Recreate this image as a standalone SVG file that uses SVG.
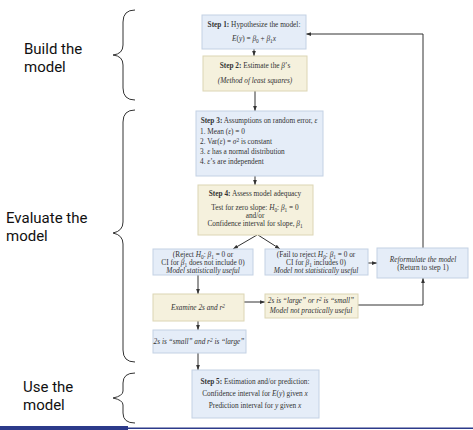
<svg xmlns="http://www.w3.org/2000/svg" width="473" height="430" viewBox="0 0 473 430">
<defs>
<marker id="ah" viewBox="0 0 8 8" refX="8" refY="4" markerWidth="5" markerHeight="5" orient="auto" markerUnits="userSpaceOnUse">
<path d="M0,1 L8,4 L0,7 Z" fill="#333"/>
</marker>
<style>
.blue{fill:#e5edf8;stroke:#c3d1e4;stroke-width:1}
.yel{fill:#f5f1dd;stroke:#dcd5b4;stroke-width:1}
.t{font-family:"Liberation Serif","Times New Roman",serif;font-size:7.3px;fill:#333;text-anchor:middle}
.l{text-anchor:start}
.b{font-weight:bold}
.i{font-style:italic}
.sub{font-size:5.3px}
.lab{font-family:Roboto,"Liberation Sans",Arial,sans-serif;font-size:15px;fill:#111}
.br{fill:none;stroke:#333;stroke-width:1}
.c{fill:none;stroke:#333;stroke-width:1}
</style>
</defs>
<rect width="473" height="430" fill="#ffffff"/>

<g id="labels">
<text class="lab" x="24" y="54">Build the</text>
<text class="lab" x="24" y="72">model</text>
<text class="lab" x="6" y="223">Evaluate the</text>
<text class="lab" x="6" y="241">model</text>
<text class="lab" x="23" y="392">Use the</text>
<text class="lab" x="23" y="410">model</text>
</g>

<g id="braces">
<path class="br" d="M135,10 Q123,10 123,22 L123,45 Q123,54 113,55 Q123,56 123,65 L123,88 Q123,100 135,100"/>
<path class="br" d="M135,110 Q123,110 123,122 L123,222 Q123,231 113,233 Q123,235 123,244 L123,350 Q123,362 135,362"/>
<path class="br" d="M135,373 Q123,373 123,383 L123,391 Q123,396 113,398 Q123,400 123,405 L123,413 Q123,423 135,423"/>
</g>

<g id="connectors">
<line class="c" x1="254" y1="49" x2="254" y2="56" marker-end="url(#ah)"/>
<line class="c" x1="255" y1="91" x2="255" y2="111" marker-end="url(#ah)"/>
<line class="c" x1="255" y1="176" x2="255" y2="185" marker-end="url(#ah)"/>
<line class="c" x1="257" y1="235" x2="233" y2="249" marker-end="url(#ah)"/>
<line class="c" x1="258" y1="235" x2="280" y2="249" marker-end="url(#ah)"/>
<line class="c" x1="198" y1="275" x2="198" y2="294" marker-end="url(#ah)"/>
<line class="c" x1="368" y1="263" x2="377" y2="263" marker-end="url(#ah)"/>
<line class="c" x1="244" y1="302" x2="265" y2="302" marker-end="url(#ah)"/>
<polyline class="c" points="358,305 423,305 423,278" marker-end="url(#ah)"/>
<polyline class="c" points="423,248 423,34 306,34" marker-end="url(#ah)"/>
<line class="c" x1="198" y1="321" x2="198" y2="330" marker-end="url(#ah)"/>
<line class="c" x1="198" y1="353" x2="198" y2="370" marker-end="url(#ah)"/>
</g>

<g id="step1">
<rect class="blue" x="202" y="15" width="104" height="34"/>
<text class="t" x="254" y="27"><tspan class="b">Step 1:</tspan> Hypothesize the model:</text>
<text class="t" x="254" y="41"><tspan class="i">E</tspan>(<tspan class="i">y</tspan>) = <tspan class="i">β</tspan><tspan class="sub" dy="1.5">0</tspan><tspan dy="-1.5"> + </tspan><tspan class="i">β</tspan><tspan class="sub" dy="1.5">1</tspan><tspan class="i" dy="-1.5">x</tspan></text>
</g>

<g id="step2">
<rect class="yel" x="203" y="56" width="104" height="35"/>
<text class="t" x="255" y="68"><tspan class="b">Step 2:</tspan> Estimate the <tspan class="i">β</tspan>’s</text>
<text class="t i" x="255" y="83">(Method of least squares)</text>
</g>

<g id="step3">
<rect class="blue" x="196" y="111" width="127" height="65"/>
<text class="t" x="259" y="123"><tspan class="b">Step 3:</tspan> Assumptions on random error, <tspan class="i">ε</tspan></text>
<text class="t l" x="200" y="134">1. Mean (<tspan class="i">ε</tspan>) = 0</text>
<text class="t l" x="200" y="144">2. Var(<tspan class="i">ε</tspan>) = <tspan class="i">σ</tspan><tspan class="sub" dy="-2.5">2</tspan><tspan dy="2.5"> is constant</tspan></text>
<text class="t l" x="200" y="154">3. <tspan class="i">ε</tspan> has a normal distribution</text>
<text class="t l" x="200" y="164">4. <tspan class="i">ε</tspan>’s are independent</text>
</g>

<g id="step4">
<rect class="yel" x="198" y="185" width="115" height="50"/>
<text class="t" x="255" y="196"><tspan class="b">Step 4:</tspan> Assess model adequacy</text>
<text class="t" x="255" y="210">Test for zero slope: <tspan class="i">H</tspan><tspan class="sub" dy="1.5">0</tspan><tspan dy="-1.5">: </tspan><tspan class="i">β</tspan><tspan class="sub" dy="1.5">1</tspan><tspan dy="-1.5"> = 0</tspan></text>
<text class="t" x="255" y="218">and/or</text>
<text class="t" x="255" y="226">Confidence interval for slope, <tspan class="i">β</tspan><tspan class="sub" dy="1.5">1</tspan></text>
</g>

<g id="reject">
<rect class="blue" x="153" y="249" width="100" height="26"/>
<text class="t" x="203" y="257">(Reject <tspan class="i">H</tspan><tspan class="sub" dy="1.5">0</tspan><tspan dy="-1.5">: </tspan><tspan class="i">β</tspan><tspan class="sub" dy="1.5">1</tspan><tspan dy="-1.5"> = 0 or</tspan></text>
<text class="t" x="203" y="265">CI for <tspan class="i">β</tspan><tspan class="sub" dy="1.5">1</tspan><tspan dy="-1.5"> does not include 0)</tspan></text>
<text class="t i" x="203" y="273">Model statistically useful</text>
</g>

<g id="fail">
<rect class="blue" x="265" y="249" width="103" height="26"/>
<text class="t" x="316" y="257">(Fail to reject <tspan class="i">H</tspan><tspan class="sub" dy="1.5">0</tspan><tspan dy="-1.5">: </tspan><tspan class="i">β</tspan><tspan class="sub" dy="1.5">1</tspan><tspan dy="-1.5"> = 0 or</tspan></text>
<text class="t" x="316" y="265">CI for <tspan class="i">β</tspan><tspan class="sub" dy="1.5">1</tspan><tspan dy="-1.5"> includes 0)</tspan></text>
<text class="t i" x="316" y="273">Model not statistically useful</text>
</g>

<g id="reformulate">
<rect class="blue" x="377" y="248" width="91" height="30"/>
<text class="t i" x="423" y="262">Reformulate the model</text>
<text class="t" x="423" y="270">(Return to step 1)</text>
</g>

<g id="examine">
<rect class="yel" x="153" y="294" width="91" height="27"/>
<text class="t i" x="198" y="310">Examine 2s and r<tspan class="sub" dy="-2.5">2</tspan></text>
</g>

<g id="large">
<rect class="yel" x="265" y="294" width="93" height="24"/>
<text class="t i" x="311" y="303">2s is “large” or r<tspan class="sub" dy="-2.5">2</tspan><tspan dy="2.5"> is “small”</tspan></text>
<text class="t i" x="311" y="313">Model not practically useful</text>
</g>

<g id="small">
<rect class="blue" x="153" y="330" width="93" height="23"/>
<text class="t i" x="199" y="344">2s is “small” and r<tspan class="sub" dy="-2.5">2</tspan><tspan dy="2.5"> is “large”</tspan></text>
</g>

<g id="step5">
<rect class="blue" x="192" y="370" width="127" height="48"/>
<text class="t" x="255" y="384"><tspan class="b">Step 5:</tspan> Estimation and/or prediction:</text>
<text class="t" x="255" y="396">Confidence interval for <tspan class="i">E</tspan>(<tspan class="i">y</tspan>) given <tspan class="i">x</tspan></text>
<text class="t" x="255" y="408">Prediction interval for <tspan class="i">y</tspan> given <tspan class="i">x</tspan></text>
</g>

<g id="footer">
<rect x="0" y="426" width="128" height="4" fill="#2c3a8a"/>
<rect x="128" y="427.5" width="345" height="1.5" fill="#2c3a8a"/>
</g>
</svg>
